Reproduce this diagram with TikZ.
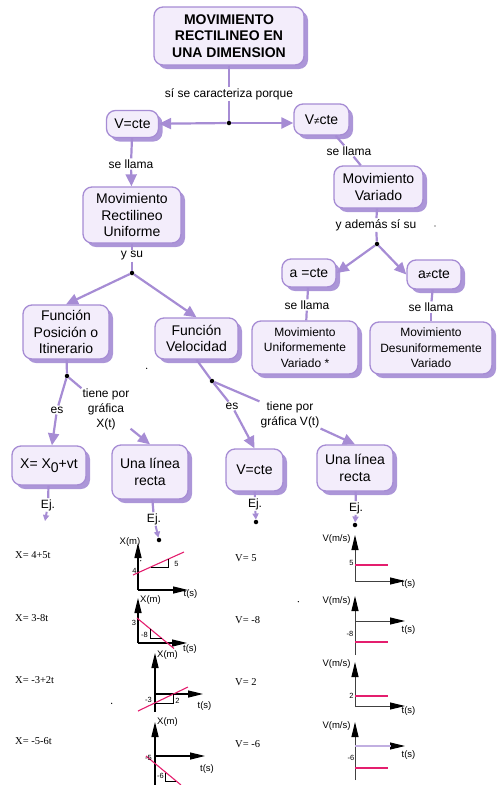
\documentclass[tikz,border=0pt]{standalone}
\usepackage{fontspec}
\setmainfont{Liberation Sans}
\newfontfamily\eqfont{Liberation Serif}
\usepackage{tikz}
\usetikzlibrary{arrows.meta,positioning,shadows}
\definecolor{lila}{RGB}{166,140,212}
\definecolor{lilafill}{RGB}{243,237,251}
\definecolor{lilashadow}{RGB}{172,150,216}
\definecolor{rosa}{RGB}{228,30,110}
\newcommand{\distinto}{{\fontsize{10}{10}\selectfont ≠}}

\begin{document}
\begin{tikzpicture}[x=1pt, y=-1pt,
        BOX/.style={rectangle, rounded corners=9pt, draw=lila, fill=lilafill, line width=1.3pt, align=center, inner sep=2pt, font=\fontsize{14}{16.5}\selectfont, drop shadow={shadow xshift=4pt, shadow yshift=-4pt, fill=lilashadow, opacity=1}},
        SMALLBOX/.style={BOX, font=\fontsize{12}{15.5}\selectfont},
        WORD/.style={rectangle, fill=white, inner sep=1pt, align=center, font=\fontsize{12}{15}\selectfont},
        DOT/.style={circle, fill=black, inner sep=0pt, minimum size=4.5pt},
        LINK/.style={draw=lila, line width=2.2pt, >={Triangle[length=12pt,width=11pt]}},
        EJLINK/.style={draw=lila, line width=2pt, -{Triangle[length=6pt,width=6pt]}},
        AXIS/.style={draw=black, line width=1.3pt, -{Triangle[length=15pt,width=7pt]}},
        VAXIS/.style={draw=black!75, line width=1pt, -{Triangle[length=15pt,width=7pt,color=black]}},
        RECTA/.style={draw=rosa, line width=1.1pt},
        TRI/.style={draw=black, line width=0.8pt},
        AXTXT/.style={inner sep=0pt, font=\fontsize{9.5}{10}\selectfont},
        NUM/.style={inner sep=0pt, font=\fontsize{7.5}{8}\selectfont},
        EQ/.style={inner sep=0pt, anchor=west, font=\eqfont\fontsize{10.5}{12}\selectfont},
    ]
    \useasboundingbox (0,0) rectangle (496,785);

    % concept boxes
    \node[BOX, font=\bfseries\fontsize{14}{16.5}\selectfont, minimum width=150pt, minimum height=58pt] (title) at (229,36) {MOVIMIENTO\\RECTILINEO EN\\UNA DIMENSION};
    \node[BOX, minimum width=52pt, minimum height=27pt] (vcte) at (132.5,124) {V=cte};
    \node[BOX, minimum width=55pt, minimum height=31pt] (vneq) at (321.5,119.5) {V\distinto cte};
    \node[BOX, minimum width=98pt, minimum height=56pt] (mru) at (132,215) {Movimiento\\Rectilineo\\Uniforme};
    \node[BOX, minimum width=89pt, minimum height=42pt] (mv) at (378.5,187) {Movimiento\\Variado};
    \node[BOX, minimum width=54pt, minimum height=28pt] (acte) at (309,273) {a =cte};
    \node[BOX, minimum width=54pt, minimum height=29pt] (aneq) at (434,274.5) {a\distinto cte};
    \node[SMALLBOX, minimum width=106pt, minimum height=53pt] (muv) at (305,347.5) {Movimiento\\Uniformemente\\Variado *};
    \node[SMALLBOX, minimum width=122pt, minimum height=52pt] (mdv) at (431,348) {Movimiento\\Desuniformemente\\Variado};
    \node[BOX, minimum width=86pt, minimum height=54pt] (fpi) at (66,332) {Función\\Posición o\\Itinerario};
    \node[BOX, minimum width=83pt, minimum height=41pt] (fvel) at (196.5,338.5) {Función\\Velocidad};
    \node[BOX, minimum width=74pt, minimum height=39pt] (xeq) at (49,465.5) {X= X\raisebox{-3.5pt}{0}+vt};
    \node[BOX, minimum width=76pt, minimum height=54pt] (ulrA) at (150,472) {Una línea\\recta};
    \node[BOX, minimum width=57pt, minimum height=42pt] (vcteB) at (254.5,470) {V=cte};
    \node[BOX, minimum width=76pt, minimum height=46pt] (ulrB) at (355,468) {Una línea\\recta};

    % linking words
    \node[WORD] (lCar) at (229,94) {sí se caracteriza porque};
    \node[WORD] (lLlamaA) at (131,164) {se llama};
    \node[WORD] (lLlamaB) at (349,151) {se llama};
    \node[WORD] (lAdemas) at (376,225) {y además sí su};
    \node[WORD] (lLlamaC) at (307,305) {se llama};
    \node[WORD] (lLlamaD) at (431,307) {se llama};
    \node[WORD] (lYsu) at (132,256) {y su};
    \node[WORD] (lEsA) at (57,410) {es};
    \node[WORD] (lGrafX) at (106,409) {tiene por\\gráfica\\X(t)};
    \node[WORD] (lEsB) at (232,406) {es};
    \node[WORD] (lGrafV) at (290,414.5) {tiene por\\gráfica V(t)};
    \node[WORD] (lEjA) at (48,505) {Ej.};
    \node[WORD] (lEjB) at (154,519) {Ej.};
    \node[WORD] (lEjC) at (255,504) {Ej.};
    \node[WORD] (lEjD) at (356,508) {Ej.};

    % junctions
    \node[DOT] (j1) at (229,123) {};
    \node[DOT] (j2) at (377,244) {};
    \node[DOT] (j3) at (132,273) {};
    \node[DOT] (j4) at (67,376) {};
    \node[DOT] (j5) at (212,381) {};
    \node[DOT] (dotB) at (159,540) {};
    \node[DOT] (dotC) at (256,522) {};
    \node[DOT] (dotD) at (355,525) {};
    \coordinate (endA) at (45,521);

    % links
    \draw[LINK] (title) -- (lCar);
    \draw[LINK] (lCar) -- (j1);
    \draw[LINK, ->] (j1) -- (vcte);
    \draw[LINK, ->] (j1) -- (vneq.west |- j1);
    \draw[LINK] (vcte) -- (lLlamaA);
    \draw[LINK, ->] (lLlamaA) -- (mru);
    \draw[LINK] (vneq) -- (lLlamaB);
    \draw[LINK] (lLlamaB) -- (mv);
    \draw[LINK] (mv) -- (lAdemas);
    \draw[LINK] (lAdemas) -- (j2);
    \draw[LINK, ->] (j2) -- (acte.east);
    \draw[LINK, ->] (j2) -- (aneq.west);
    \draw[LINK] (acte) -- (lLlamaC);
    \draw[LINK] (lLlamaC) -- (muv);
    \draw[LINK] (aneq) -- (lLlamaD);
    \draw[LINK] (lLlamaD) -- (mdv);
    \draw[LINK] (mru) -- (lYsu);
    \draw[LINK] (lYsu) -- (j3);
    \draw[LINK, ->] (j3) -- (fpi.north);
    \draw[LINK, ->] (j3) -- (fvel.north);
    \draw[LINK] (fpi) -- (j4);
    \draw[LINK] (j4) -- (lEsA);
    \draw[LINK, ->] (lEsA) -- (xeq);
    \draw[LINK] (j4) -- (lGrafX);
    \draw[LINK, ->] (lGrafX) -- (ulrA.north);
    \draw[LINK] (fvel.south) -- (j5);
    \draw[LINK] (j5) -- (lEsB);
    \draw[LINK, ->] (lEsB) -- (vcteB.north);
    \draw[LINK] (j5) -- (lGrafV);
    \draw[LINK, ->] (lGrafV) -- (ulrB.north);
    \draw[LINK] (xeq) -- (lEjA);
    \draw[EJLINK] (lEjA) -- (endA);
    \draw[LINK] (ulrA) -- (lEjB);
    \draw[EJLINK] (lEjB) -- (dotB);
    \draw[LINK] (vcteB) -- (lEjC);
    \draw[EJLINK] (lEjC) -- (dotC);
    \draw[LINK] (ulrB) -- (lEjD);
    \draw[EJLINK] (lEjD) -- (dotD);

    % examples
    \node[EQ] (eqX1) at (15,555) {X= 4+5t};
    \node[EQ] (eqX2) at (15,618) {X= 3-8t};
    \node[EQ] (eqX3) at (15,680) {X= -3+2t};
    \node[EQ] (eqX4) at (15,741) {X= -5-6t};
    \node[EQ] (eqV1) at (235,558) {V= 5};
    \node[EQ] (eqV2) at (235,620) {V= -8};
    \node[EQ] (eqV3) at (235,682.5) {V= 2};
    \node[EQ] (eqV4) at (235,744) {V= -6};

    % X(t) graphs
    \draw[AXIS] (138,590) -- (138,543);
    \draw[AXIS] (138,590) -- (188,590);
    \draw[RECTA] (133,575) -- (184,552);
    \draw[TRI] (151,567) -- (168,567) -- (168,559);
    \node[AXTXT] at (130,542.5) {X(m)};
    \node[AXTXT] at (190.5,594) {t(s)};
    \node[NUM] at (134.5,570.5) {4};
    \node[NUM] at (176.5,564) {5};

    \draw[AXIS] (138,643) -- (138,598);
    \draw[AXIS] (138,643) -- (187,643);
    \draw[RECTA] (137,618) -- (174,648.5);
    \draw[TRI] (150,628.7) -- (150,638.3) -- (161.7,638.3);
    \node[AXTXT] at (150.5,600.5) {X(m)};
    \node[AXTXT] at (190,649) {t(s)};
    \node[NUM] at (134,622.5) {3};
    \node[NUM] at (144.5,635) {-8};

    \draw[AXIS] (155,712) -- (155,653);
    \draw[AXIS] (155,694) -- (203,694);
    \draw[RECTA] (138,711) -- (188,687);
    \draw[TRI] (155,703) -- (173,703) -- (173,694);
    \node[AXTXT] at (167.5,655) {X(m)};
    \node[AXTXT] at (204.5,706) {t(s)};
    \node[NUM] at (148.5,699.5) {-3};
    \node[NUM] at (177.5,700.5) {2};

    \draw[AXIS] (155,785) -- (155,722);
    \draw[AXIS] (155,756) -- (205,756);
    \draw[RECTA] (146,756) -- (181,785);
    \draw[TRI] (165,772.8) -- (165,781.7) -- (176,781.7);
    \node[AXTXT] at (167.5,722) {X(m)};
    \node[AXTXT] at (207,769) {t(s)};
    \node[NUM] at (148.5,757.5) {-5};
    \node[NUM] at (160.5,776) {-6};

    % V(t) graphs
    \draw[VAXIS] (355,581) -- (355,535);
    \draw[VAXIS] (355,581) -- (405,581);
    \draw[RECTA] (355,565) -- (388,565);
    \node[AXTXT] at (336.5,539) {V(m/s)};
    \node[AXTXT] at (408.5,584.5) {t(s)};
    \node[NUM] at (351.5,562.5) {5};

    \draw[VAXIS] (355,655) -- (355,596);
    \draw[VAXIS] (355,621) -- (405,621);
    \draw[RECTA] (355,642) -- (388,642);
    \node[AXTXT] at (336.5,601) {V(m/s)};
    \node[AXTXT] at (408.5,630) {t(s)};
    \node[NUM] at (350,634) {-8};

    \draw[VAXIS] (355,707) -- (355,662);
    \draw[VAXIS] (355,706) -- (405,706);
    \draw[RECTA] (355,696) -- (388,696);
    \node[AXTXT] at (336.5,664) {V(m/s)};
    \node[AXTXT] at (408.5,711) {t(s)};
    \node[NUM] at (351.5,695.5) {2};

    \draw[VAXIS] (355,780) -- (355,722);
    \draw[VAXIS] (355,746) -- (405,746);
    \draw[draw=lila!70, line width=1.2pt] (355,746) -- (391,746);
    \draw[RECTA] (355,768) -- (388,768);
    \node[AXTXT] at (336.5,726) {V(m/s)};
    \node[AXTXT] at (408.5,755.5) {t(s)};
    \node[NUM] at (351,758.3) {-6};

    % stray specks
    \fill (435,226) circle (0.7pt);
    \fill (146.7,368.3) circle (0.7pt);
    \fill (111.7,703.3) circle (0.7pt);
    \fill (298.3,601.7) circle (0.7pt);
    \fill (140.7,560.7) circle (0.6pt);
\end{tikzpicture}
\end{document}
